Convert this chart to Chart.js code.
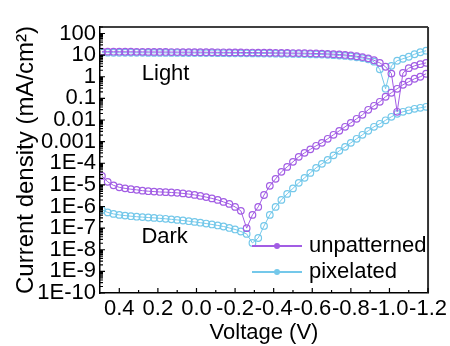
<!DOCTYPE html>
<html>
<head>
<meta charset="utf-8">
<script src="https://cdn.jsdelivr.net/npm/chart.js@4.4.0/dist/chart.umd.min.js"></script>
<style>
html, body { margin: 0; padding: 0; background: #fff; }
#wrap { width: 450px; height: 346px; }
</style>
</head>
<body>
<div id="wrap"><canvas id="c" width="450" height="346"></canvas></div>
<script>
// J–V sweep, voltage in V (shared by all four curves)
const voltage = [0.49, 0.46, 0.43, 0.40, 0.37, 0.34, 0.31, 0.28, 0.25, 0.22,
  0.19, 0.16, 0.13, 0.10, 0.07, 0.04, 0.01, -0.02, -0.05, -0.08,
  -0.11, -0.14, -0.17, -0.20, -0.23, -0.26, -0.29, -0.32, -0.35, -0.38,
  -0.41, -0.44, -0.47, -0.50, -0.53, -0.56, -0.59, -0.62, -0.65, -0.68,
  -0.71, -0.74, -0.77, -0.80, -0.83, -0.86, -0.89, -0.92, -0.95, -0.98,
  -1.01, -1.04, -1.07, -1.10, -1.13, -1.16, -1.19];

// |J| in mA/cm2
const unpatternedLight = [14.5, 14.5, 14.4, 14.4, 14.3, 14.3, 14.2, 14.2, 14.1, 14.1,
  14.0, 14.0, 13.9, 13.9, 13.8, 13.8, 13.7, 13.7, 13.6, 13.6,
  13.5, 13.5, 13.4, 13.4, 13.3, 13.2, 13.2, 13.1, 13.0, 12.9,
  12.8, 12.7, 12.6, 12.5, 12.4, 12.3, 12.1, 11.9, 11.7, 11.4,
  11.1, 10.7, 10.2, 9.6, 8.9, 8.1, 7.1, 5.8, 4.4, 2.9,
  1.4, 0.024, 1.5, 2.5, 3.2, 3.8, 4.4];

const unpatternedDark = [2.6e-5, 1.38e-5, 9.5e-6, 7.7e-6, 6.9e-6, 6.3e-6, 5.9e-6, 5.4e-6, 5.1e-6, 4.9e-6,
  4.7e-6, 4.6e-6, 4.45e-6, 4.27e-6, 4.04e-6, 3.75e-6, 3.44e-6, 3.1e-6, 2.72e-6, 2.37e-6,
  2.02e-6, 1.63e-6, 1.32e-6, 9.6e-7, 6.3e-7, 1.0e-7, 4.1e-7, 9.6e-7, 3.4e-6, 9.0e-6,
  1.9e-5, 4.0e-5, 6.8e-5, 1.16e-4, 1.98e-4, 3.03e-4, 4.4e-4, 6.4e-4, 8.8e-4, 1.35e-3,
  2.07e-3, 3.16e-3, 4.84e-3, 7.4e-3, 1.14e-2, 1.74e-2, 2.97e-2, 4.54e-2, 6.96e-2, 0.119,
  0.182, 0.278, 0.426, 0.587, 0.808, 1.0, 1.38];

const pixelatedLight = [13.0, 13.0, 12.9, 12.9, 12.9, 12.8, 12.8, 12.8, 12.7, 12.7,
  12.7, 12.6, 12.6, 12.6, 12.5, 12.5, 12.5, 12.4, 12.4, 12.4,
  12.3, 12.3, 12.2, 12.2, 12.1, 12.1, 12.0, 12.0, 11.9, 11.8,
  11.7, 11.6, 11.5, 11.4, 11.3, 11.2, 11.0, 10.8, 10.6, 10.3,
  10.0, 9.6, 9.2, 8.6, 8.0, 7.3, 6.4, 5.0, 2.2, 0.28,
  3.2, 5.5, 6.8, 8.4, 11.0, 13.6, 16.0];

const pixelatedDark = [6.97e-7, 5.33e-7, 4.54e-7, 4.08e-7, 3.79e-7, 3.56e-7, 3.37e-7, 3.23e-7, 3.10e-7, 2.97e-7,
  2.84e-7, 2.70e-7, 2.55e-7, 2.40e-7, 2.25e-7, 2.09e-7, 1.94e-7, 1.78e-7, 1.63e-7, 1.48e-7,
  1.33e-7, 1.19e-7, 1.02e-7, 8.7e-8, 7.0e-8, 5.4e-8, 2.06e-8, 3.5e-8, 1.26e-7, 4.08e-7,
  9.6e-7, 2.02e-6, 3.83e-6, 6.89e-6, 1.24e-5, 2.11e-5, 3.59e-5, 6.12e-5, 9.4e-5, 1.44e-4,
  2.32e-4, 3.75e-4, 5.74e-4, 8.8e-4, 1.35e-3, 2.07e-3, 3.16e-3, 4.84e-3, 6.67e-3, 9.7e-3,
  1.41e-2, 1.94e-2, 2.40e-2, 2.81e-2, 3.30e-2, 3.67e-2, 4.08e-2];

const xTickValues = [0.4, 0.2, 0.0, -0.2, -0.4, -0.6, -0.8, -1.0, -1.2];
const xTickLabels = ['0.4', '0.2', '0.0', '-0.2', '-0.4', '-0.6', '-0.8', '-1.0', '-1.2'];
const yTickValues = [1e-10, 1e-9, 1e-8, 1e-7, 1e-6, 1e-5, 1e-4, 1e-3, 1e-2, 1e-1, 1, 10, 100];
const yTickLabels = ['1E-10', '1E-9', '1E-8', '1E-7', '1E-6', '1E-5', '1E-4', '0.001', '0.01', '0.1', '1', '10', '100'];

const seriesNames = ['unpatterned', 'pixelated'];
const seriesColors = ['#A25DE4', '#74C8EA'];

// in-plot labels, positioned in data coordinates (V, J)
const curveLabels = [
  { text: 'Light', v: 0.16, j: 1.4 },
  { text: 'Dark', v: 0.165, j: 3.9e-8 }
];

const FONT = '"Liberation Sans", Arial, Helvetica, sans-serif';

function curve(label, values, color) {
  return {
    label: label,
    data: voltage.map((v, i) => ({ x: v, y: values[i] })),
    borderColor: color,
    backgroundColor: color,
    borderWidth: 1,
    pointRadius: 3.3,
    pointBorderWidth: 1.2,
    pointBorderColor: color,
    pointBackgroundColor: 'rgba(255,255,255,0)',
    tension: 0,
    fill: false
  };
}

const datasets = [
  curve(seriesNames[0] + ' light', unpatternedLight, seriesColors[0]),
  curve(seriesNames[0] + ' dark', unpatternedDark, seriesColors[0]),
  curve(seriesNames[1] + ' light', pixelatedLight, seriesColors[1]),
  curve(seriesNames[1] + ' dark', pixelatedDark, seriesColors[1])
];

// frame on top/right plus inward major and minor tick marks
const frameTicks = {
  id: 'frameTicks',
  afterDraw(chart) {
    const { ctx, chartArea: a, scales: { x, y } } = chart;
    ctx.save();
    ctx.strokeStyle = '#000';
    ctx.lineWidth = 1.5;
    ctx.beginPath();
    ctx.moveTo(a.left, a.top); ctx.lineTo(a.right, a.top);
    ctx.stroke();
    ctx.strokeStyle = '#333';
    ctx.lineWidth = 2;
    ctx.beginPath();
    ctx.moveTo(a.right, a.top); ctx.lineTo(a.right, a.bottom);
    ctx.stroke();

    ctx.strokeStyle = '#000';
    ctx.lineWidth = 1.2;
    ctx.beginPath();
    xTickValues.forEach((v, i) => {
      const px = x.getPixelForValue(v);
      ctx.moveTo(px, a.bottom); ctx.lineTo(px, a.bottom - 5);
      if (i < xTickValues.length - 1) {
        const m = x.getPixelForValue((v + xTickValues[i + 1]) / 2);
        ctx.moveTo(m, a.bottom); ctx.lineTo(m, a.bottom - 3);
      }
    });
    yTickValues.forEach((d) => {
      const py = y.getPixelForValue(d);
      ctx.moveTo(a.left, py); ctx.lineTo(a.left + 5, py);
      for (let k = 2; k <= 9; k++) {
        const val = d * k;
        if (val > y.max) break;
        const pm = y.getPixelForValue(val);
        ctx.moveTo(a.left, pm); ctx.lineTo(a.left + 3, pm);
      }
    });
    ctx.stroke();
    ctx.restore();
  }
};

// legend in the lower right of the plot, and the Light/Dark labels
const legendAndLabels = {
  id: 'legendAndLabels',
  afterDraw(chart) {
    const { ctx, scales: { x, y } } = chart;
    ctx.save();
    ctx.font = '22px ' + FONT;
    ctx.fillStyle = '#000';
    ctx.textBaseline = 'middle';
    ctx.textAlign = 'center';
    curveLabels.forEach(l => {
      ctx.fillText(l.text, x.getPixelForValue(l.v), y.getPixelForValue(l.j));
    });

    const x0 = 252, x1 = 302, y0 = 246, dy = 26;
    seriesNames.forEach((name, i) => {
      const yy = y0 + i * dy;
      ctx.strokeStyle = seriesColors[i];
      ctx.lineWidth = 2;
      ctx.beginPath();
      ctx.moveTo(x0, yy); ctx.lineTo(x1, yy);
      ctx.stroke();
      ctx.beginPath();
      ctx.arc((x0 + x1) / 2, yy, 3, 0, Math.PI * 2);
      ctx.fillStyle = seriesColors[i];
      ctx.fill();
      ctx.fillStyle = '#000';
      ctx.textAlign = 'left';
      ctx.fillText(name, 309, yy);
    });
    ctx.restore();
  }
};

new Chart(document.getElementById('c'), {
  type: 'line',
  data: { datasets: datasets },
  options: {
    responsive: false,
    devicePixelRatio: 1,
    animation: false,
    layout: { padding: { top: 27, right: 20, left: 0, bottom: 0 } },
    plugins: { legend: { display: false }, tooltip: { enabled: false } },
    scales: {
      x: {
        type: 'linear',
        reverse: true,
        min: -1.2,
        max: 0.5,
        afterBuildTicks: s => { s.ticks = xTickValues.map(v => ({ value: v })); },
        afterFit: s => { s.height = 53; },
        ticks: {
          autoSkip: false, maxRotation: 0, minRotation: 0, padding: 3, color: '#000',
          font: { family: FONT, size: 22 },
          callback: v => xTickLabels[xTickValues.indexOf(v)]
        },
        grid: { display: false, drawTicks: false },
        border: { display: true, color: '#000', width: 1.5 },
        title: {
          display: true, text: 'Voltage (V)', color: '#000',
          font: { family: FONT, size: 22 }, padding: { top: 0, bottom: 0 }
        }
      },
      y: {
        type: 'logarithmic',
        min: 1e-10,
        max: 200,
        afterBuildTicks: s => { s.ticks = yTickValues.map(v => ({ value: v })); },
        afterFit: s => { s.width = 100; },
        ticks: {
          autoSkip: false, padding: 4, color: '#000',
          font: { family: FONT, size: 22 },
          callback: v => yTickLabels[yTickValues.indexOf(v)]
        },
        grid: { display: false, drawTicks: false },
        border: { display: true, color: '#000', width: 1.5 },
        title: {
          display: true, text: 'Current density (mA/cm²)', color: '#000',
          font: { family: FONT, size: 24 }, padding: { top: 12, bottom: 0 }
        }
      }
    }
  },
  plugins: [frameTicks, legendAndLabels]
});
</script>
</body>
</html>
